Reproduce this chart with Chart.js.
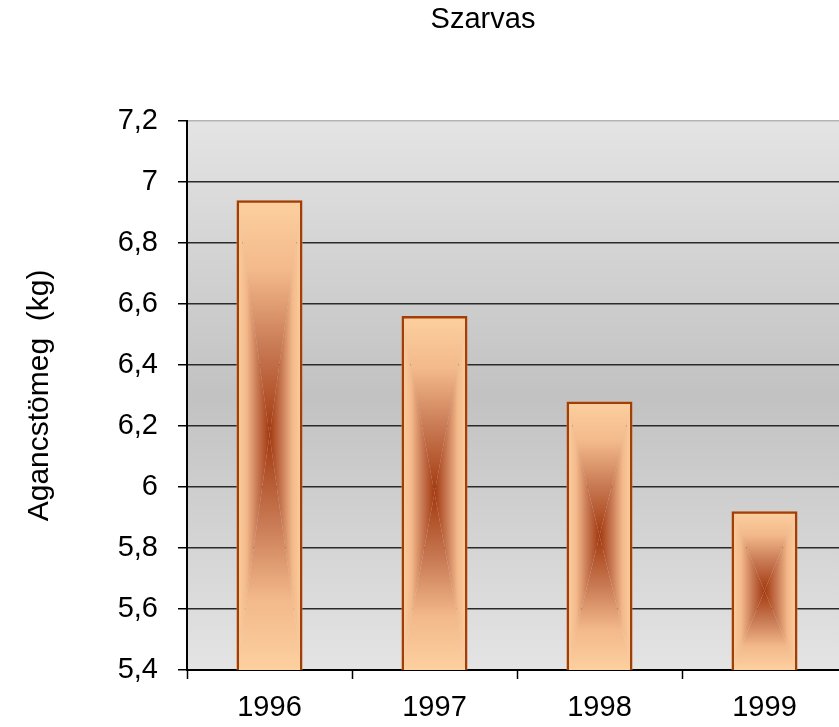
<!DOCTYPE html>
<html>
<head>
<meta charset="utf-8">
<script src="https://cdn.jsdelivr.net/npm/chart.js@4/dist/chart.umd.min.js"></script>
<style>
  html, body { margin: 0; padding: 0; background: #fff; overflow: hidden; }
  canvas { display: block; }
</style>
</head>
<body>
<canvas id="antlerChart" width="850" height="727"></canvas>
<script>
// Chart data
const years = ['1996', '1997', '1998', '1999'];
const antlerWeight = [6.94, 6.56, 6.28, 5.92];
const yMin = 5.4;
const yMax = 7.2;
const yStep = 0.2;

const FONT = '"Liberation Sans", Arial, sans-serif';

// grey band behind the plot, darker in the middle
const plotBackground = {
    id: 'plotBackground',
    beforeDraw(chart) {
        const { ctx, chartArea: a } = chart;
        const g = ctx.createLinearGradient(0, a.top, 0, a.bottom);
        g.addColorStop(0, '#e4e4e4');
        g.addColorStop(0.5, '#c2c2c2');
        g.addColorStop(1, '#e4e4e4');
        ctx.save();
        ctx.fillStyle = g;
        ctx.fillRect(a.left, a.top, a.right - a.left, a.bottom - a.top);
        ctx.restore();
    }
};

// "from centre" box gradient inside each bar
const boxGradient = {
    id: 'boxGradient',
    beforeDatasetsDraw(chart) {
        const ctx = chart.ctx;
        const area = chart.chartArea;
        const stops = [[0, '#fdd0a0'], [0.3, '#f3b98a'], [0.62, '#c97b55'], [1, '#a3380e']];
        chart.getDatasetMeta(0).data.forEach(bar => {
            const l = bar.x - bar.width / 2, r = bar.x + bar.width / 2;
            const t = Math.max(Math.min(bar.y, bar.base), area.top);
            const b = Math.min(Math.max(bar.y, bar.base), area.bottom);
            const cx = (l + r) / 2, cy = (t + b) / 2;
            const tri = (p1, p2, g0, g1) => {
                const g = ctx.createLinearGradient(g0[0], g0[1], g1[0], g1[1]);
                stops.forEach(s => g.addColorStop(s[0], s[1]));
                ctx.beginPath();
                ctx.moveTo(p1[0], p1[1]);
                ctx.lineTo(p2[0], p2[1]);
                ctx.lineTo(cx, cy);
                ctx.closePath();
                ctx.fillStyle = g;
                ctx.fill();
            };
            ctx.save();
            ctx.beginPath();
            ctx.rect(l, t, r - l, b - t);
            ctx.clip();
            tri([l, t], [r, t], [cx, t], [cx, cy]);
            tri([l, b], [r, b], [cx, b], [cx, cy]);
            tri([l, t], [l, b], [l, cy], [cx, cy]);
            tri([r, t], [r, b], [r, cy], [cx, cy]);
            ctx.restore();
        });
    }
};

// the title sits left of the plot centre in the original
const titleShift = {
    id: 'titleShift',
    afterLayout(chart) {
        if (chart.titleBlock) {
            chart.titleBlock.left = 0;
            chart.titleBlock.right = 966;
        }
    }
};

const ctx = document.getElementById('antlerChart').getContext('2d');

const antlerChart = new Chart(ctx, {
    type: 'bar',
    data: {
        labels: years,
        datasets: [{
            data: antlerWeight,
            backgroundColor: 'rgba(0,0,0,0)',
            borderColor: '#a23f08',
            borderWidth: 2.5,
            borderSkipped: false,
            barPercentage: 0.4,
            categoryPercentage: 1
        }]
    },
    options: {
        responsive: false,
        animation: false,
        layout: { padding: { left: 0, right: 3, top: 0, bottom: 0 } },
        plugins: {
            legend: { display: false },
            tooltip: { enabled: false },
            title: {
                display: true,
                text: 'Szarvas',
                color: '#000',
                font: { family: FONT, size: 29, weight: 'normal' },
                padding: { top: 3, bottom: 83 }
            }
        },
        scales: {
            x: {
                offset: true,
                afterFit(scale) { scale.height = 57; },
                grid: {
                    offset: true,
                    drawOnChartArea: false,
                    tickLength: 9,
                    tickColor: '#000',
                    tickWidth: 1.5
                },
                border: { color: '#000', width: 2 },
                ticks: {
                    color: '#000',
                    padding: 12,
                    font: { family: FONT, size: 29 }
                }
            },
            y: {
                min: yMin,
                max: yMax,
                afterFit(scale) { scale.width = 187; },
                ticks: {
                    stepSize: yStep,
                    color: '#000',
                    padding: 20,
                    font: { family: FONT, size: 29 },
                    callback: v => String(Math.round(v * 10) / 10).replace('.', ',')
                },
                grid: {
                    color: c => (c.index === c.scale.ticks.length - 1 ? '#b4b4b4' : '#2a2a2a'),
                    lineWidth: 1.5,
                    tickLength: 9,
                    tickColor: '#000'
                },
                border: { color: '#000', width: 2 },
                title: {
                    display: true,
                    text: 'Agancstömeg  (kg)',
                    color: '#000',
                    font: { family: FONT, size: 30 },
                    padding: { top: 22, bottom: 0 }
                }
            }
        }
    },
    plugins: [plotBackground, boxGradient, titleShift]
});
</script>
</body>
</html>
